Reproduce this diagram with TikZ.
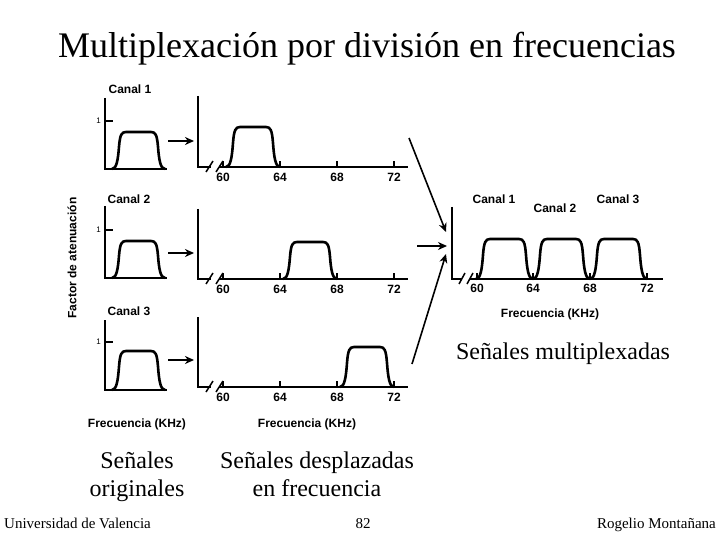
\documentclass[tikz,border=0pt]{standalone}
\usepackage{fontspec}
\setmainfont{Liberation Serif}
\setsansfont{Liberation Sans}
\usetikzlibrary{arrows.meta}
% pulse: x, base y, width, height
\newcommand\pulse[4]{%
  \draw[sig] (#1,#2) .. controls +(4.5,0) and +(-1,{0.35*#4}) .. ++(7,{-0.6*#4})
    .. controls +(1,{-0.325*#4}) and +(-4.5,0) .. ++(7,{-0.4*#4})
    -- ++({#3-28},0)
    .. controls +(4.5,0) and +(-1,{-0.325*#4}) .. ++(7,{0.4*#4})
    .. controls +(1,{0.35*#4}) and +(-4.5,0) .. ++(7,{0.6*#4});}
\begin{document}
\begin{tikzpicture}[x=1pt,y=-1pt,
  axis/.style={line width=2.6pt},
  sig/.style={line width=2.6pt,line join=round},
  brk/.style={line width=1.5pt},
  tickl/.style={line width=1.5pt},
  arr/.style={line width=1.6pt,-{Stealth[length=9pt,width=8pt]}},
  lab/.style={font=\sffamily\bfseries\fontsize{12}{14}\selectfont,inner sep=0pt},
  tk/.style={font=\sffamily\bfseries\fontsize{12}{14}\selectfont,inner sep=0pt},
  one/.style={font=\sffamily\fontsize{8}{9}\selectfont,inner sep=0pt},
  big/.style={font=\fontsize{24}{27.5}\selectfont,align=center,inner sep=0pt},
  foot/.style={font=\fontsize{15}{17}\selectfont,inner sep=0pt}]
\useasboundingbox (0,0) rectangle (720,540);

\node[inner sep=0pt,font=\fontsize{36}{40}\selectfont,anchor=base] (title) at (367,58) {Multiplexación por división en frecuencias};

% left: original signals
\foreach \n/\t/\b/\k/\h in {1/98/169/121/37, 2/206/278/230/37, 3/320/390/342/39}{
  \draw[axis] (105,\t) -- (105,\b) -- (167,\b);
  \draw[axis] (105,\k) -- (113,\k);
  \node[one,anchor=east] (one\n) at (101,\k) {1};
  \pulse{112}{\b}{53}{\h}
}
\node[lab] (c1) at (130,89) {Canal 1};
\node[lab] (c2) at (129,199) {Canal 2};
\node[lab] (c3) at (129,311) {Canal 3};

% small arrows
\foreach \n/\y in {1/141,2/253,3/360}{
  \coordinate (sa\n) at (168,\y);
  \coordinate (sb\n) at (194,\y);
  \draw[arr] (sa\n) -- (sb\n);
}

% shifted signals
\foreach \n/\t/\b/\s/\h in {1/96/167/226/40, 2/209/279/283/37, 3/317/387/340/40}{
  \draw[axis] (198,\t) -- (198,\b) -- (211,\b);
  \draw[axis] (219,\b) -- (408,\b);
  \draw[brk] (206,\b+5) -- (213,\b-6);
  \draw[brk] (216,\b+5) -- (223,\b-6);
  \foreach \x/\v in {223/60,280/64,337/68,394/72}{
    \draw[tickl] (\x,\b) -- (\x,\b-6);
    \node[tk] (t\n-\v) at (\x,\b+10) {\v};
  }
  \pulse{\s}{\b}{54}{\h}
}

\node[rotate=90,lab] (fa) at (72,258) {Factor de atenuación};
\node[lab] (f1) at (137,424) {Frecuencia (KHz)};
\node[lab] (f2) at (307,424) {Frecuencia (KHz)};

% multiplexed
\draw[axis] (452,207) -- (452,279) -- (462,279);
\draw[axis] (470,279) -- (663,279);
\draw[brk] (459,284) -- (465,273);
\draw[brk] (467,284) -- (473,273);
\foreach \x/\v in {477/60,533/64,590/68,647/72}{
  \draw[tickl] (\x,279) -- (\x,273);
  \node[tk] (r\v) at (\x,288) {\v};
}
\pulse{476}{279}{57}{40}
\pulse{533}{279}{57}{40}
\pulse{590}{279}{57}{40}
\node[lab] (rc1) at (494,199) {Canal 1};
\node[lab] (rc2) at (555,208) {Canal 2};
\node[lab] (rc3) at (618,199) {Canal 3};
\node[lab] (f3) at (550,314) {Frecuencia (KHz)};

% big arrows
\coordinate (ba1) at (409,138);
\coordinate (bb1) at (446,232);
\coordinate (ba2) at (417,246);
\coordinate (bb2) at (447,246);
\coordinate (ba3) at (412,364);
\coordinate (bb3) at (446,254);
\draw[arr] (ba1) -- (bb1);
\draw[arr] (ba2) -- (bb2);
\draw[arr] (ba3) -- (bb3);

\node[big,anchor=base] (sm) at (563,359) {Señales multiplexadas};
\node[big,anchor=base] (so) at (137,496) {Señales\\originales};
\node[big,anchor=base] (sd) at (317,496) {Señales desplazadas\\en frecuencia};

\node[foot,anchor=base west] (uv) at (4,528) {Universidad de Valencia};
\node[foot,anchor=base] (pg) at (363,528) {82};
\node[foot,anchor=base east] (rm) at (716,528) {Rogelio Montañana};
\end{tikzpicture}
\end{document}
